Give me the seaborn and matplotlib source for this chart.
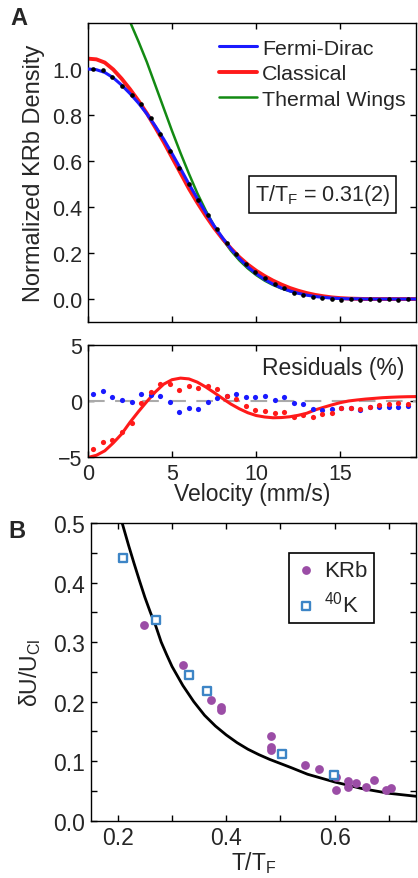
import numpy as np
import pandas as pd
import matplotlib
matplotlib.use('Agg')
import matplotlib.pyplot as plt
import seaborn as sns

# ---- panel A: density profile (velocity in mm/s) ----
vel_grid = [0.0, 0.5, 1.0, 1.5, 2.0, 2.5, 3.0, 3.5, 4.0, 4.5,
            5.0, 5.5, 6.0, 6.5, 7.0, 7.5, 8.0, 8.5, 9.0, 9.5,
            10.0, 10.5, 11.0, 11.5, 12.0, 12.5, 13.0, 13.5, 14.0, 14.5,
            15.0, 15.5, 16.0, 16.5, 17.0, 17.5, 18.0, 18.5, 19.0, 19.5]
fermi_dirac = [1.000, 0.997, 0.985, 0.962, 0.930, 0.893, 0.852, 0.805, 0.752, 0.695,
               0.632, 0.567, 0.500, 0.437, 0.376, 0.318, 0.266, 0.218, 0.176, 0.140,
               0.110, 0.085, 0.065, 0.048, 0.035, 0.025, 0.017, 0.011, 0.007, 0.004,
               0.002, 0.001, 0.001, 0.0, 0.0, 0.0, 0.0, 0.0, 0.0, 0.0]
classical = [1.045, 1.042, 1.028, 0.998, 0.958, 0.912, 0.862, 0.807, 0.746, 0.683,
             0.615, 0.548, 0.480, 0.419, 0.362, 0.309, 0.262, 0.220, 0.182, 0.150,
             0.123, 0.100, 0.080, 0.063, 0.048, 0.036, 0.026, 0.018, 0.012, 0.007,
             0.004, 0.002, 0.001, 0.0, 0.0, 0.0, 0.0, 0.0, 0.0, 0.0]
thermal_wings = [1.430, 1.420, 1.390, 1.345, 1.280, 1.205, 1.120, 1.030, 0.930, 0.830,
                 0.730, 0.635, 0.545, 0.460, 0.385, 0.318, 0.260, 0.210, 0.168, 0.133,
                 0.104, 0.080, 0.061, 0.046, 0.034, 0.025, 0.018, 0.012, 0.008, 0.005,
                 0.003, 0.002, 0.001, 0.0, 0.0, 0.0, 0.0, 0.0, 0.0, 0.0]

vel_pts = [0.32, 0.89, 1.45, 2.02, 2.59, 3.15, 3.72, 4.29, 4.85, 5.42,
           5.99, 6.55, 7.12, 7.69, 8.25, 8.82, 9.39, 9.95, 10.52, 11.09,
           11.65, 12.22, 12.79, 13.35, 13.92, 14.49, 15.05, 15.62, 16.19, 16.75,
           17.32, 17.89, 18.45, 19.02]
density_pts = [1.000, 0.996, 0.967, 0.928, 0.887, 0.847, 0.789, 0.716, 0.643, 0.568,
               0.502, 0.430, 0.365, 0.304, 0.245, 0.194, 0.152, 0.116, 0.090, 0.064,
               0.047, 0.028, 0.018, 0.010, 0.005, 0.002, -0.003, -0.002, -0.003, -0.002,
               -0.003, -0.002, -0.003, -0.002]

# residuals (%)
resid_fd = [0.6, 0.9, 0.33, 0.09, -0.12, 0.63, 0.5, 0.48, -0.12, -0.96,
            -0.66, -0.69, -0.06, 0.24, 0.42, 0.6, 0.36, 0.35, 0.45, 0.08,
            0.38, -0.2, -0.28, -0.75, -0.8, -0.75, -0.6, -0.6, -0.8, -0.55,
            -0.55, -0.52, -0.5, -0.48]
resid_cl = [-4.3, -3.65, -3.5, -2.75, -2.0, -0.2, 0.78, 1.53, 1.5, 1.0,
            1.38, 1.14, 1.3, 1.1, 0.42, 0.15, -0.42, -0.85, -0.88, -1.1,
            -0.95, -1.4, -1.25, -1.45, -1.2, -1.1, -0.66, -0.66, -0.7, -0.5,
            -0.36, -0.25, -0.2, -0.25]
resid_cl_curve = [-5.05, -4.85, -4.45, -3.75, -2.95, -1.9, -0.95, -0.05, 0.8, 1.5,
                  1.9, 2.04, 1.97, 1.68, 1.25, 0.75, 0.22, -0.28, -0.7, -1.05,
                  -1.3, -1.43, -1.5, -1.48, -1.41, -1.28, -1.1, -0.8, -0.57, -0.35,
                  -0.15, 0.0, 0.09, 0.17, 0.23, 0.29, 0.33, 0.36, 0.38, 0.39]

# ---- panel B ----
krb_t = [0.249, 0.320, 0.371, 0.390, 0.390, 0.482, 0.482, 0.482, 0.546, 0.572,
         0.603, 0.603, 0.624, 0.624, 0.639, 0.658, 0.673, 0.694, 0.704]
krb_du = [0.329, 0.261, 0.202, 0.191, 0.186, 0.142, 0.123, 0.119, 0.0935, 0.087,
          0.073, 0.052, 0.066, 0.056, 0.063, 0.057, 0.069, 0.052, 0.055]
k40_t = [0.209, 0.270, 0.331, 0.364, 0.502, 0.598]
k40_du = [0.442, 0.337, 0.245, 0.217, 0.112, 0.077]
fit_t = [0.208, 0.22, 0.23, 0.24, 0.25, 0.26, 0.27, 0.28, 0.29, 0.30,
         0.32, 0.34, 0.36, 0.38, 0.40, 0.42, 0.44, 0.46, 0.48, 0.50,
         0.52, 0.55, 0.60, 0.65, 0.70, 0.75]
fit_du = [0.500, 0.462, 0.432, 0.403, 0.375, 0.350, 0.327, 0.300, 0.279, 0.259,
          0.227, 0.200, 0.177, 0.159, 0.144, 0.131, 0.120, 0.111, 0.103, 0.096,
          0.089, 0.078, 0.065, 0.054, 0.046, 0.041]

sns.set_style('ticks')
plt.rcParams['font.family'] = ['Liberation Sans', 'DejaVu Sans']
plt.rcParams['mathtext.default'] = 'regular'

BLUE = '#1a1aff'
RED = '#ff1a1a'
GREEN = '#138a13'

fig = plt.figure(figsize=(4.18, 8.79), dpi=100)
axA = fig.add_axes([0.2105, 0.6325, 0.7847, 0.3402])
axR = fig.add_axes([0.2105, 0.4790, 0.7847, 0.1274])
axB = fig.add_axes([0.2170, 0.0652, 0.7782, 0.3387])

for ax in (axA, axR, axB):
    for sp in ax.spines.values():
        sp.set_color('black')
        sp.set_linewidth(1.0)
    ax.tick_params(direction='in', top=True, right=True, length=4, width=1,
                   color='black', labelsize=15.5, pad=4)

# Panel A
sns.lineplot(x=vel_grid, y=thermal_wings, color=GREEN, linewidth=1.8,
             ax=axA, label='Thermal Wings', zorder=1)
sns.lineplot(x=vel_grid, y=classical, color=RED, linewidth=2.8,
             ax=axA, label='Classical', zorder=2)
sns.lineplot(x=vel_grid, y=fermi_dirac, color=BLUE, linewidth=2.2,
             ax=axA, label='Fermi-Dirac', zorder=3)
sns.scatterplot(x=vel_pts, y=density_pts, color='black', s=11, linewidth=0,
                ax=axA, zorder=4)
axA.set_xlim(0, 19.5)
axA.set_ylim(-0.1, 1.2)
axA.set_xticks([0, 5, 10, 15])
axA.set_xticklabels([])
axA.set_yticks([0.0, 0.2, 0.4, 0.6, 0.8, 1.0])
axA.set_yticklabels(['0.0', '0.2', '0.4', '0.6', '0.8', '1.0'])
axA.set_ylabel('Normalized KRb Density', fontsize=17)
axA.yaxis.set_label_coords(-0.132, 0.5)
h, l = axA.get_legend_handles_labels()
order = [l.index('Fermi-Dirac'), l.index('Classical'), l.index('Thermal Wings')]
axA.legend([h[i] for i in order], [l[i] for i in order], loc='upper left',
           bbox_to_anchor=(0.399, 0.948), frameon=False, fontsize=15.4,
           borderpad=0, handlelength=1.77, handletextpad=0.24, labelspacing=0.31,
           borderaxespad=0)
axA.text(0.715, 0.4264, 'T/T$_F$ = 0.31(2)', transform=axA.transAxes,
         ha='center', va='center', fontsize=15.5,
         bbox=dict(boxstyle='square,pad=0.28', facecolor='white',
                   edgecolor='black', linewidth=1.1))

# Residuals
axR.axhline(0, color='#aaaaaa', linewidth=1.5, dashes=(8, 5), zorder=1)
sns.lineplot(x=vel_grid, y=resid_cl_curve, color=RED, linewidth=2.2, ax=axR, zorder=2)
sns.scatterplot(x=vel_pts, y=resid_fd, color=BLUE, s=14, linewidth=0, ax=axR, zorder=3)
sns.scatterplot(x=vel_pts, y=resid_cl, color=RED, s=14, linewidth=0, ax=axR, zorder=3)
axR.set_xlim(0, 19.5)
axR.set_ylim(-5, 5)
axR.set_yticks([-5, 0, 5])
axR.set_xticks([0, 5, 10, 15])
axR.text(0.748, 0.80, 'Residuals (%)', transform=axR.transAxes,
         ha='center', va='center', fontsize=16.5)
axR.set_xlabel('Velocity (mm/s)', fontsize=16.5)
axR.xaxis.set_label_coords(0.5, -0.228)
axR.xaxis.label.set_va('top')

# Panel B
sns.lineplot(x=fit_t, y=fit_du, color='black', linewidth=2.0, ax=axB, zorder=2)
sns.scatterplot(x=krb_t, y=krb_du, color='#9b4da6', s=40, linewidth=0,
                ax=axB, label='KRb', zorder=3)
sns.scatterplot(x=k40_t, y=k40_du, marker='s', color='white', edgecolor='#3d85c6',
                linewidth=1.7, s=30, ax=axB, label='$^{40}$K', zorder=4)
axB.set_xlim(0.15, 0.75)
axB.set_ylim(0.0, 0.5)
axB.set_xticks([0.2, 0.3, 0.4, 0.5, 0.6, 0.7])
axB.set_xticklabels(['0.2', '', '0.4', '', '0.6', ''])
axB.set_yticks([0.0, 0.05, 0.1, 0.15, 0.2, 0.25, 0.3, 0.35, 0.4, 0.45, 0.5])
axB.set_yticklabels(['0.0', '', '0.1', '', '0.2', '', '0.3', '', '0.4', '', '0.5'])
axB.tick_params(labelsize=16.5, pad=4)
axB.set_ylabel('δU/U$_{Cl}$', fontsize=16.5)
axB.yaxis.set_label_coords(-0.147, 0.5)
axB.set_xlabel('T/T$_F$', fontsize=16.5)
axB.xaxis.set_label_coords(0.5, -0.095)
axB.xaxis.label.set_va('top')
leg = axB.legend(loc='upper left', bbox_to_anchor=(0.6087, 0.899), fontsize=16,
                 frameon=True, fancybox=False, edgecolor='black', borderpad=0.3,
                 handlelength=1.0, handletextpad=0.3, labelspacing=0.45,
                 borderaxespad=0)
leg.get_frame().set_linewidth(1.2)
leg.get_frame().set_alpha(1)

fig.text(0.0443, 0.9784, 'A', fontsize=17, fontweight='bold', ha='center', va='center')
fig.text(0.0407, 0.3959, 'B', fontsize=17, fontweight='bold', ha='center', va='center')

fig.savefig('out.png', dpi=100)
